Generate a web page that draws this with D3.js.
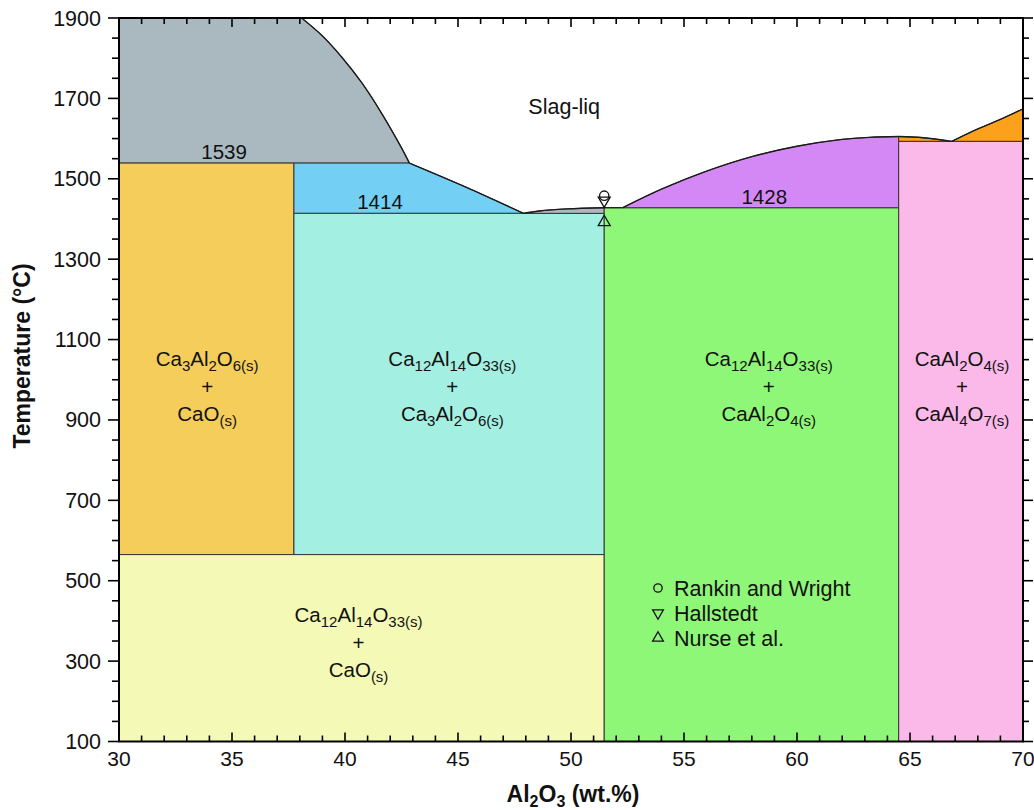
<!DOCTYPE html>
<html>
<head>
<meta charset="utf-8">
<script src="https://cdn.jsdelivr.net/npm/d3@7"></script>
<style>
  html, body { margin: 0; padding: 0; background: #fff; }
  svg { display: block; font-family: "Liberation Sans", Arial, sans-serif; }
</style>
</head>
<body>
<svg id="chart" width="1034" height="810"></svg>
<script>
// Axis ticks
const xTicks = [30, 35, 40, 45, 50, 55, 60, 65, 70];
const yTicks = [100, 300, 500, 700, 900, 1100, 1300, 1500, 1700, 1900];

// Compound compositions (wt.% Al2O3)
const compositions = { C3A: 37.74, C12A7: 51.47, CA: 64.5 };
// Invariant temperatures (°C)
const invariants = { peritectic: 1539, eutectic: 1414, c12a7Melt: 1428, eutectoid: 565, caEutectic: 1593 };

// Liquidus curves [wt.% Al2O3, T °C]
const caoLiquidus = [[38.08, 1900], [38.97, 1857], [39.85, 1803], [40.74, 1739], [41.62, 1663], [42.5, 1577], [42.85, 1539]];
const c3aLiquidus = [[42.85, 1539], [45.4, 1478], [47.9, 1414]];
const c12a7Liquidus = [[47.9, 1414], [48.6, 1420], [49.8, 1425], [51.47, 1428]];
const caLiquidus = [[52.29, 1428], [54, 1474], [56, 1519], [58, 1555], [60, 1581], [62, 1598], [63.2, 1603], [64.5, 1605]];
const caLiquidusHigh = [[64.5, 1605], [65.59, 1602], [66.84, 1593]];
const ca2Liquidus = [[66.84, 1593], [67.65, 1615], [68.25, 1630], [69.0, 1648], [70, 1674]];

// Experimental melting points of Ca12Al14O33
const experiments = [
  { name: "Rankin and Wright", symbol: "circle", x: 51.47, t: 1458 },
  { name: "Hallstedt", symbol: "down", x: 51.47, t: 1446 },
  { name: "Nurse et al.", symbol: "up", x: 51.47, t: 1392 }
];

const colors = {
  liquidSolid: "#aab9c0", c3aCao: "#f5cd5a", c3aLiq: "#74cff5", c12a7C3a: "#a3f0e3",
  c12a7Cao: "#f4f9b6", c12a7Ca: "#8ff777", caLiq: "#d488f6", ca2Liq: "#fca11c", caCa2: "#fbb9e9"
};

const margin = { left: 119, top: 18, right: 1023, bottom: 741.5 };
const x = d3.scaleLinear().domain([30, 70]).range([margin.left, margin.right]);
const y = d3.scaleLinear().domain([100, 1900]).range([margin.bottom, margin.top]);

const svg = d3.select("#chart");
const plot = svg.append("g");

const curve = d3.line().x(d => x(d[0])).y(d => y(d[1])).curve(d3.curveCatmullRom.alpha(0.5));
const straight = pts => pts.map(p => "L" + x(p[0]) + "," + y(p[1])).join("");
// Curve segment followed by straight edges, closed
const shape = (curvePts, tail) => curve(curvePts) + straight(tail) + "Z";
const poly = pts => "M" + pts.map(p => x(p[0]) + "," + y(p[1])).join("L") + "Z";

const { C3A, C12A7, CA } = compositions;
const { peritectic, eutectic, c12a7Melt, eutectoid, caEutectic } = invariants;

const regions = [
  { fill: colors.liquidSolid, d: shape(caoLiquidus, [[30, peritectic], [30, 1900]]) },
  { fill: colors.c3aCao, d: poly([[30, peritectic], [C3A, peritectic], [C3A, eutectoid], [30, eutectoid]]) },
  { fill: colors.c3aLiq, d: shape(c3aLiquidus, [[C3A, eutectic], [C3A, peritectic]]) },
  { fill: colors.c12a7C3a, d: poly([[C3A, eutectic], [C12A7, eutectic], [C12A7, eutectoid], [C3A, eutectoid]]) },
  { fill: colors.c12a7Cao, d: poly([[30, eutectoid], [C12A7, eutectoid], [C12A7, 100], [30, 100]]) },
  { fill: colors.liquidSolid, d: shape(c12a7Liquidus, [[C12A7, eutectic]]) },
  { fill: colors.c12a7Ca, d: poly([[C12A7, c12a7Melt], [CA, c12a7Melt], [CA, 100], [C12A7, 100]]) },
  { fill: colors.caLiq, d: shape(caLiquidus, [[CA, c12a7Melt]]) },
  { fill: colors.ca2Liq, d: curve(caLiquidusHigh) + curve(ca2Liquidus).replace(/^M/, "L") + straight([[70, caEutectic], [CA, caEutectic]]) + "Z" },
  { fill: colors.caCa2, d: poly([[CA, caEutectic], [70, caEutectic], [70, 100], [CA, 100]]) }
];

plot.selectAll("path.region").data(regions).join("path")
  .attr("class", "region")
  .attr("d", d => d.d)
  .attr("fill", d => d.fill)
  .attr("stroke", "#333")
  .attr("stroke-width", 1)
  .attr("stroke-linejoin", "round");

// Liquidus lines
[caoLiquidus, c3aLiquidus, c12a7Liquidus, caLiquidus, caLiquidusHigh, ca2Liquidus].forEach(pts => {
  plot.append("path").attr("d", curve(pts)).attr("fill", "none")
    .attr("stroke", "#1a1a1a").attr("stroke-width", 1.4);
});
// Segment between C12A7 and CA liquidus at 1428
plot.append("path").attr("d", "M" + x(C12A7) + "," + y(c12a7Melt) + straight([[caLiquidus[0][0], c12a7Melt]]))
  .attr("stroke", "#1a1a1a").attr("stroke-width", 1.2);

// Frame and ticks
const axisG = svg.append("g").attr("stroke", "#000").attr("fill", "none");
axisG.append("rect").attr("x", margin.left).attr("y", margin.top)
  .attr("width", margin.right - margin.left).attr("height", margin.bottom - margin.top)
  .attr("stroke-width", 2);

const xMinor = d3.range(30, 70.01, 1);
const yMinor = d3.range(100, 1900.01, 50);
xMinor.forEach(v => {
  const major = xTicks.includes(v);
  const len = major ? 9 : 6;
  axisG.append("line").attr("x1", x(v)).attr("x2", x(v))
    .attr("y1", margin.bottom).attr("y2", margin.bottom - len).attr("stroke-width", 1.6);
  axisG.append("line").attr("x1", x(v)).attr("x2", x(v))
    .attr("y1", margin.top).attr("y2", margin.top + len).attr("stroke-width", 1.6);
});
yMinor.forEach(v => {
  const major = yTicks.includes(v);
  const len = major ? 11 : 7;
  axisG.append("line").attr("x1", margin.left).attr("x2", margin.left - len)
    .attr("y1", y(v)).attr("y2", y(v)).attr("stroke-width", 1.6);
  axisG.append("line").attr("x1", margin.right).attr("x2", margin.right + (major ? 10 : 6))
    .attr("y1", y(v)).attr("y2", y(v)).attr("stroke-width", 1.6);
});

svg.append("g").selectAll("text").data(xTicks).join("text")
  .attr("x", d => x(d)).attr("y", margin.bottom + 24)
  .attr("text-anchor", "middle").attr("font-size", 21).attr("fill", "#111").text(d => d);
svg.append("g").selectAll("text").data(yTicks).join("text")
  .attr("x", margin.left - 18).attr("y", d => y(d) + 7.5)
  .attr("text-anchor", "end").attr("font-size", 21.5).attr("fill", "#111").text(d => d);

// Axis titles
const xTitle = svg.append("text").attr("x", 573).attr("y", 802)
  .attr("text-anchor", "middle").attr("font-size", 23).attr("font-weight", "bold").attr("fill", "#111");
xTitle.append("tspan").text("Al");
xTitle.append("tspan").attr("font-size", 16).attr("dy", 5).text("2");
xTitle.append("tspan").attr("dy", -5).text("O");
xTitle.append("tspan").attr("font-size", 16).attr("dy", 5).text("3");
xTitle.append("tspan").attr("dy", -5).text(" (wt.%)");

svg.append("text").attr("transform", "translate(30,356) rotate(-90)")
  .attr("text-anchor", "middle").attr("font-size", 23).attr("font-weight", "bold").attr("fill", "#111")
  .text("Temperature (\u00B0C)");

// Phase field labels: each part is [text, isSubscript]
function formula(g, parts, cx, cy) {
  const t = g.append("text").attr("x", cx).attr("y", cy).attr("text-anchor", "middle")
    .attr("font-size", 20.5).attr("fill", "#111");
  let shifted = false;
  parts.forEach(([s, sub]) => {
    const ts = t.append("tspan").text(s);
    if (sub && !shifted) { ts.attr("dy", 5).attr("font-size", 15); shifted = true; }
    else if (sub) { ts.attr("font-size", 15); }
    else if (shifted) { ts.attr("dy", -5); shifted = false; }
  });
}
const labels = svg.append("g");
const fieldLabels = [
  { x: 33.9, rows: [[["Ca"], ["3", 1], ["Al"], ["2", 1], ["O"], ["6(s)", 1]], [["+"]], [["CaO"], ["(s)", 1]]], top: 366 },
  { x: 44.75, rows: [[["Ca"], ["12", 1], ["Al"], ["14", 1], ["O"], ["33(s)", 1]], [["+"]], [["Ca"], ["3", 1], ["Al"], ["2", 1], ["O"], ["6(s)", 1]]], top: 366 },
  { x: 58.75, rows: [[["Ca"], ["12", 1], ["Al"], ["14", 1], ["O"], ["33(s)", 1]], [["+"]], [["CaAl"], ["2", 1], ["O"], ["4(s)", 1]]], top: 366 },
  { x: 67.3, rows: [[["CaAl"], ["2", 1], ["O"], ["4(s)", 1]], [["+"]], [["CaAl"], ["4", 1], ["O"], ["7(s)", 1]]], top: 366 },
  { x: 40.6, rows: [[["Ca"], ["12", 1], ["Al"], ["14", 1], ["O"], ["33(s)", 1]], [["+"]], [["CaO"], ["(s)", 1]]], top: 622 }
];
fieldLabels.forEach(f => {
  f.rows.forEach((r, i) => formula(labels, r, x(f.x), f.top + i * 27.5));
});

// Temperature and liquid labels
const tempLabels = [
  { text: String(peritectic), x: 34.65, t: peritectic },
  { text: String(eutectic), x: 41.55, t: eutectic },
  { text: String(c12a7Melt), x: 58.55, t: c12a7Melt }
];
labels.selectAll("text.temp").data(tempLabels).join("text").attr("class", "temp")
  .attr("x", d => x(d.x)).attr("y", d => y(d.t) - 4)
  .attr("text-anchor", "middle").attr("font-size", 20.5).attr("fill", "#111").text(d => d.text);
labels.append("text").attr("x", x(49.7)).attr("y", 114).attr("text-anchor", "middle")
  .attr("font-size", 21.5).attr("fill", "#111").text("Slag-liq");

// Symbols
const symbolPath = (type, s) => {
  if (type === "circle") return d3.symbol(d3.symbolCircle, s * 1.1)();
  return d3.symbol(d3.symbolTriangle, s)();
};
function drawSymbol(g, type, cx, cy, s) {
  g.append("path").attr("d", symbolPath(type, s))
    .attr("transform", `translate(${cx},${cy})` + (type === "down" ? " rotate(180)" : ""))
    .attr("fill", "none").attr("stroke", "#111").attr("stroke-width", 1.3);
}
const marks = svg.append("g");
experiments.forEach(e => drawSymbol(marks, e.symbol, x(e.x), y(e.t), 62));

// Legend
const legend = svg.append("g");
experiments.forEach((e, i) => {
  const cy = 588 + i * 25;
  drawSymbol(legend, e.symbol, 658, cy, 50);
  legend.append("text").attr("x", 674).attr("y", cy + 7.5).attr("font-size", 21.5)
    .attr("fill", "#111").text(e.name);
});
</script>
</body>
</html>
